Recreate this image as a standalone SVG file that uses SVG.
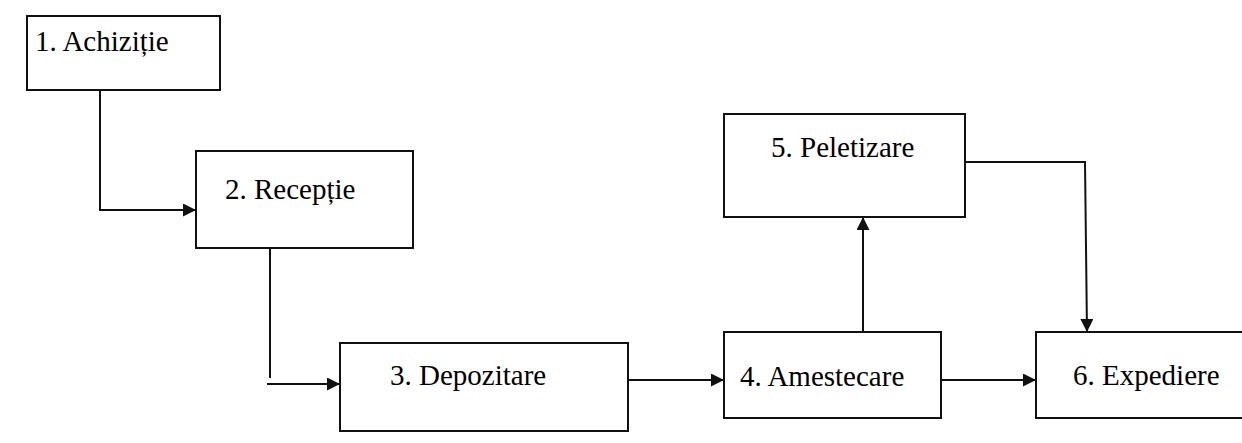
<svg xmlns="http://www.w3.org/2000/svg" width="1242" height="443" viewBox="0 0 1242 443">
<style>
.box{fill:#fff;stroke:#111;stroke-width:2}
.lbl{font-family:"Liberation Serif","Times New Roman",serif;font-size:29px;fill:#000}
.con{fill:none;stroke:#111;stroke-width:2}
</style>
<defs>
<marker id="ah" viewBox="0 0 10 10" refX="10" refY="5" markerWidth="15" markerHeight="13" markerUnits="userSpaceOnUse" orient="auto">
<path d="M0,0 L10,5 L0,10 z" fill="#111"/>
</marker>
</defs>
<rect width="1242" height="443" fill="#fff"/>
<g id="connectors">
<polyline class="con" points="100,90 100,210 196,210" marker-end="url(#ah)"/>
<line class="con" x1="270" y1="248" x2="270" y2="378"/>
<line class="con" x1="267" y1="384" x2="340" y2="384" marker-end="url(#ah)"/>
<line class="con" x1="628" y1="380" x2="724" y2="380" marker-end="url(#ah)"/>
<line class="con" x1="941" y1="380" x2="1036" y2="380" marker-end="url(#ah)"/>
<line class="con" x1="863" y1="332" x2="863" y2="217" marker-end="url(#ah)"/>
<polyline class="con" points="965,162 1085,162 1087,332" marker-end="url(#ah)"/>
</g>
<g id="n1"><rect class="box" x="27" y="16" width="193" height="74"/><text class="lbl" x="35" y="51">1. Achiziție</text></g>
<g id="n2"><rect class="box" x="196" y="151" width="217" height="97"/><text class="lbl" x="225" y="199">2. Recepție</text></g>
<g id="n3"><rect class="box" x="340" y="343" width="288" height="88"/><text class="lbl" x="390" y="385">3. Depozitare</text></g>
<g id="n4"><rect class="box" x="724" y="332" width="217" height="86"/><text class="lbl" x="740" y="386">4. Amestecare</text></g>
<g id="n5"><rect class="box" x="724" y="114" width="241" height="103"/><text class="lbl" x="771" y="157">5. Peletizare</text></g>
<g id="n6"><rect class="box" x="1036" y="332" width="220" height="86"/><text class="lbl" x="1073" y="385">6. Expediere</text></g>
</svg>
